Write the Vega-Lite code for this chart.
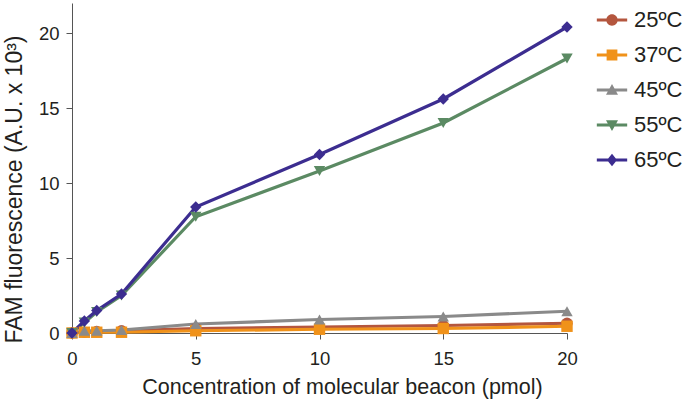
{
  "$schema": "https://vega.github.io/schema/vega-lite/v6.json",
  "width": 495,
  "height": 330,
  "autosize": "none",
  "padding": {"left": 72, "top": 3, "right": 118, "bottom": 71},
  "background": "white",
  "config": {
    "view": {"stroke": null},
    "font": "Liberation Sans",
    "axis": {"grid": false, "domainColor": "#555", "tickColor": "#555", "labelColor": "#231f20", "titleColor": "#231f20", "labelFontSize": 18.5, "titleFontWeight": "normal", "tickSize": 6, "labelFlush": false}
  },
  "data": {"values": [
    {"t": "25ºC", "x": 0, "y": 0}, {"t": "25ºC", "x": 0.5, "y": 0.05}, {"t": "25ºC", "x": 1, "y": 0.1}, {"t": "25ºC", "x": 2, "y": 0.15}, {"t": "25ºC", "x": 5, "y": 0.3}, {"t": "25ºC", "x": 10, "y": 0.4}, {"t": "25ºC", "x": 15, "y": 0.5}, {"t": "25ºC", "x": 20, "y": 0.65},
    {"t": "37ºC", "x": 0, "y": 0}, {"t": "37ºC", "x": 0.5, "y": 0.05}, {"t": "37ºC", "x": 1, "y": 0.05}, {"t": "37ºC", "x": 2, "y": 0.05}, {"t": "37ºC", "x": 5, "y": 0.15}, {"t": "37ºC", "x": 10, "y": 0.25}, {"t": "37ºC", "x": 15, "y": 0.3}, {"t": "37ºC", "x": 20, "y": 0.45},
    {"t": "45ºC", "x": 0, "y": 0}, {"t": "45ºC", "x": 0.5, "y": 0.15}, {"t": "45ºC", "x": 1, "y": 0.15}, {"t": "45ºC", "x": 2, "y": 0.2}, {"t": "45ºC", "x": 5, "y": 0.6}, {"t": "45ºC", "x": 10, "y": 0.9}, {"t": "45ºC", "x": 15, "y": 1.1}, {"t": "45ºC", "x": 20, "y": 1.45},
    {"t": "55ºC", "x": 0, "y": 0}, {"t": "55ºC", "x": 0.5, "y": 0.7}, {"t": "55ºC", "x": 1, "y": 1.4}, {"t": "55ºC", "x": 2, "y": 2.5}, {"t": "55ºC", "x": 5, "y": 7.75}, {"t": "55ºC", "x": 10, "y": 10.8}, {"t": "55ºC", "x": 15, "y": 14.0}, {"t": "55ºC", "x": 20, "y": 18.3},
    {"t": "65ºC", "x": 0, "y": 0}, {"t": "65ºC", "x": 0.5, "y": 0.8}, {"t": "65ºC", "x": 1, "y": 1.5}, {"t": "65ºC", "x": 2, "y": 2.6}, {"t": "65ºC", "x": 5, "y": 8.4}, {"t": "65ºC", "x": 10, "y": 11.9}, {"t": "65ºC", "x": 15, "y": 15.6}, {"t": "65ºC", "x": 20, "y": 20.4}
  ]},
  "layer": [
    {
      "mark": {"type": "line", "strokeWidth": 3.2, "point": {"size": 130, "opacity": 1, "filled": true}},
      "encoding": {
        "x": {"field": "x", "type": "quantitative", "scale": {"domain": [0, 20], "nice": false}, "axis": {"values": [0, 5, 10, 15, 20], "title": "Concentration of molecular beacon (pmol)", "titleFontSize": 21.5, "titlePadding": 9, "titleX": 270, "labelPadding": 10}},
        "y": {"field": "y", "type": "quantitative", "scale": {"domain": [0, 22], "nice": false}, "axis": {"values": [0, 5, 10, 15, 20], "title": "FAM fluorescence (A.U. x 10³)", "titleFontSize": 23, "titlePadding": 12, "titleY": 186, "labelPadding": 7}},
        "color": {"field": "t", "type": "nominal", "scale": {"domain": ["25ºC", "37ºC", "45ºC", "55ºC", "65ºC"], "range": ["#b4563e", "#f0921a", "#8a8a8a", "#5b8a63", "#3c2d90"]}, "legend": null},
        "shape": {"field": "t", "type": "nominal", "scale": {"domain": ["25ºC", "37ºC", "45ºC", "55ºC", "65ºC"], "range": ["circle", "square", "triangle-up", "triangle-down", "diamond"]}, "legend": null}
      }
    },
    {
      "transform": [{"filter": "datum.x < 0"}],
      "mark": {"type": "point", "filled": true, "opacity": 1},
      "encoding": {
        "x": {"field": "x", "type": "quantitative"},
        "y": {"field": "y", "type": "quantitative"},
        "color": {"field": "t", "type": "nominal", "scale": {"domain": ["25ºC", "37ºC", "45ºC", "55ºC", "65ºC"], "range": ["#b4563e", "#f0921a", "#8a8a8a", "#5b8a63", "#3c2d90"]}, "legend": {"title": null, "orient": "none", "legendX": 529, "legendY": 6, "labelFontSize": 22, "labelColor": "#231f20", "rowPadding": 13, "symbolSize": 160, "labelOffset": 11}},
        "shape": {"field": "t", "type": "nominal", "scale": {"domain": ["25ºC", "37ºC", "45ºC", "55ºC", "65ºC"], "range": ["M-2.4,-0.25H2.4V0.25H-2.4Z M0.9,0A0.9,0.9 0 1,1 -0.9,0A0.9,0.9 0 1,1 0.9,0Z", "M-2.4,-0.25H2.4V0.25H-2.4Z M-0.85,-0.85H0.85V0.85H-0.85Z", "M-2.4,-0.25H2.4V0.25H-2.4Z M0,-0.95L0.95,0.75H-0.95Z", "M-2.4,-0.25H2.4V0.25H-2.4Z M0,0.95L-0.95,-0.75H0.95Z", "M-2.4,-0.25H2.4V0.25H-2.4Z M0,-1L0.8,0L0,1L-0.8,0Z"]}, "legend": {"title": null, "orient": "none", "legendX": 529, "legendY": 6, "labelFontSize": 22, "labelColor": "#231f20", "rowPadding": 13, "symbolSize": 160, "labelOffset": 11}}
      }
    }
  ],
  "resolve": {"scale": {"color": "independent", "shape": "independent"}}
}
